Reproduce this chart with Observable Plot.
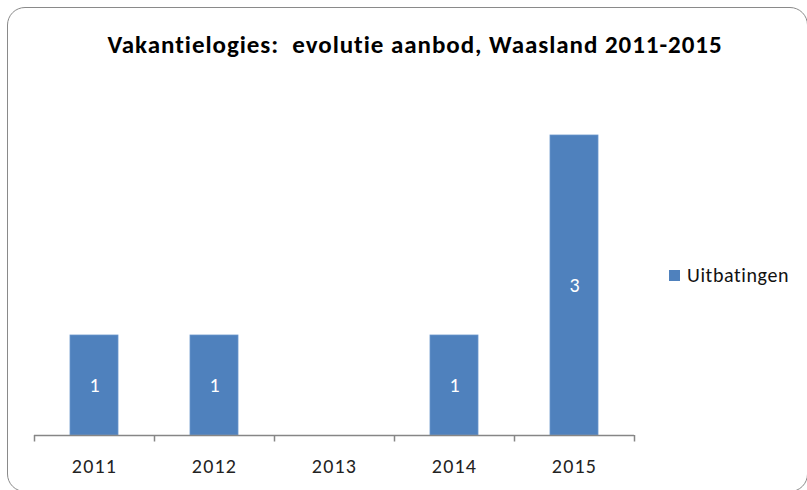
<!DOCTYPE html>
<html>
<head>
<meta charset="utf-8">
<script src="https://cdn.jsdelivr.net/npm/d3@7"></script>
<script src="https://cdn.jsdelivr.net/npm/@observablehq/plot@0.6"></script>
<style>
  html, body { margin: 0; padding: 0; background: #fff; }
  #wrap { position: relative; width: 807px; height: 490px; overflow: hidden; font-family: "Carlito", "Lato", sans-serif; }
  #border { position: absolute; left: 7px; top: 7px; width: 801px; height: 485px; border: 1.5px solid #8a8a8a; border-radius: 18px; box-sizing: border-box; }
  #title { position: absolute; left: 0; width: 830px; top: 30px; line-height: 30px; text-align: center; font-weight: bold; font-size: 25px; letter-spacing: 0.95px; color: #000; white-space: pre; }
  #legend { position: absolute; left: 669px; top: 263px; font-size: 20px; line-height: 24px; color: #111; display: flex; align-items: center; letter-spacing: 0.6px; }
  #legend span.sw { display: inline-block; width: 11px; height: 11px; background: #4F81BD; margin-right: 7px; }
  #chart { position: absolute; left: 0; top: 0; }
  #chart svg g[aria-label="x-axis tick label"] text { letter-spacing: 1.2px; }
</style>
</head>
<body>
<div id="wrap">
  <div id="border"></div>
  <div id="title"></div>
  <div id="legend"><span class="sw"></span><span id="legtext"></span></div>
  <div id="chart"></div>
</div>
<script>
const titleText = "Vakantielogies:  evolutie aanbod, Waasland 2011-2015";
const seriesName = "Uitbatingen";
const years = ["2011", "2012", "2013", "2014", "2015"];
const values = [1, 1, null, 1, 3];

document.getElementById("title").textContent = titleText;
document.getElementById("legtext").textContent = seriesName;

const data = years.map((y, i) => ({year: y, value: values[i]}));
const bars = data.filter(d => d.value != null);

const plot = Plot.plot({
  width: 807,
  height: 490,
  marginLeft: 34,
  marginRight: 173,
  marginTop: 85,
  marginBottom: 55,
  style: {fontFamily: "Carlito, Lato, sans-serif", background: "transparent"},
  x: {domain: years, paddingInner: 0.6, paddingOuter: 0.3},
  y: {domain: [0, 3.5], axis: null},
  marks: [
    Plot.barY(bars, {x: "year", y: "value", fill: "#4F81BD", stroke: "#6a97cc", strokeWidth: 0.8}),
    Plot.text(bars, {x: "year", y: d => d.value / 2, text: d => String(d.value), fill: "white", fontSize: 20}),
    Plot.ruleY([0], {stroke: "#868686", strokeWidth: 1.5}),
    Plot.ruleX(years, {x: d => d, y1: 0, y2: -0.065, dx: -60, stroke: "#868686", strokeWidth: 1.5}),
    Plot.ruleX(years.slice(-1), {x: d => d, y1: 0, y2: -0.065, dx: 60, stroke: "#868686", strokeWidth: 1.5}),
    Plot.axisX({tickSize: 0, tickPadding: 23, fontSize: 20, color: "#222", label: null})
  ]
});
document.getElementById("chart").appendChild(plot);
</script>
</body>
</html>
